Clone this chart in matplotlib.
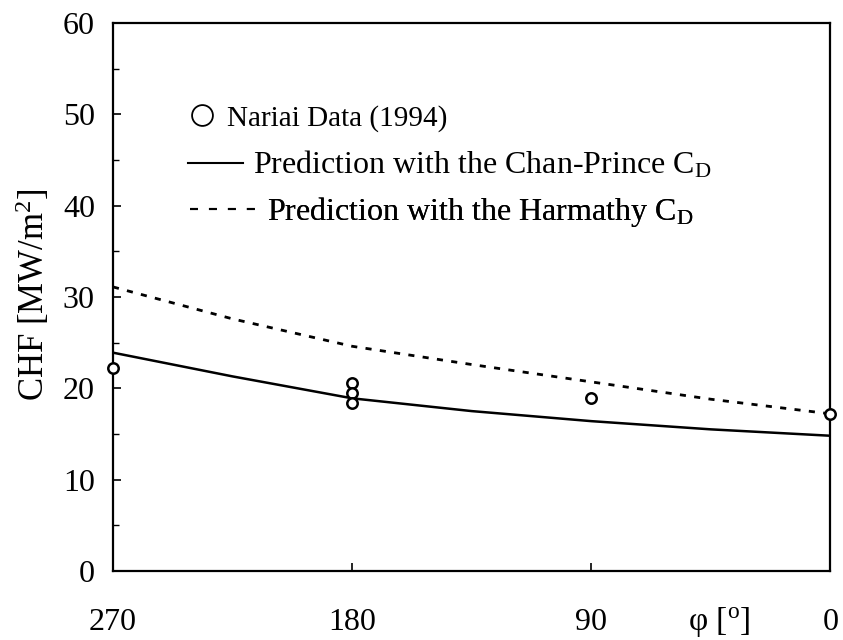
import matplotlib
matplotlib.use("Agg")
import matplotlib.pyplot as plt
from matplotlib.lines import Line2D
from matplotlib.ticker import MultipleLocator

plt.rcParams['font.family'] = ['Liberation Serif', 'DejaVu Serif']
plt.rcParams['mathtext.fontset'] = 'custom'
plt.rcParams['mathtext.rm'] = 'Liberation Serif'
plt.rcParams['mathtext.it'] = 'Liberation Serif:italic'

# Data
data_phi = [270, 180, 180, 180, 90, 0]
data_chf = [22.2, 20.6, 19.5, 18.4, 18.9, 17.2]

model_phi = [270, 225, 180, 135, 90, 45, 0]
chan_prince = [23.9, 21.3, 18.9, 17.5, 16.4, 15.5, 14.8]
harmathy = [31.1, 27.6, 24.6, 22.6, 20.7, 18.8, 17.2]

xticks = [270, 180, 90, 0]
yticks = [0, 10, 20, 30, 40, 50, 60]

fig = plt.figure(figsize=(8.43, 6.4), dpi=100)
ax = fig.add_axes([0.134, 0.108, 0.851, 0.856])

ax.plot(model_phi, chan_prince, color='black', lw=1.8, solid_capstyle='butt')
ax.plot(model_phi, harmathy, color='black', lw=2.0, linestyle=(0, (2.2, 3.0)))
ax.plot(data_phi, data_chf, linestyle='none', marker='o', markersize=7.5,
        markerfacecolor='white', markeredgecolor='black', markeredgewidth=1.8,
        clip_on=False, zorder=5)

ax.set_xlim(270, 0)
ax.set_ylim(0, 60)
ax.set_xticks(xticks)
ax.set_xticklabels([str(v) for v in xticks])
ax.set_yticks(yticks)
ax.yaxis.set_minor_locator(MultipleLocator(5))
ax.tick_params(axis='both', which='major', direction='in', length=6, width=1.2,
               labelsize=23)
ax.tick_params(axis='x', which='major', pad=27)
ax.tick_params(axis='y', which='major', pad=13)
ax.tick_params(axis='y', which='minor', direction='in', length=4, width=1.0)
for s in ax.spines.values():
    s.set_linewidth(1.6)

ax.set_ylabel('CHF [MW/m$^2$]', fontsize=25)
ax.yaxis.set_label_coords(-0.085, 0.504)
ax.text(0.845, -0.0935, r'$\mathrm{\varphi}$ [$^\mathrm{o}$]', transform=ax.transAxes,
        fontsize=24, ha='center', va='center')

# Legend rows (each placed individually, as in the original artwork)
rows = [
    (Line2D([], [], linestyle='none', marker='o', markersize=15,
            markerfacecolor='white', markeredgecolor='black', markeredgewidth=1.3),
     'Nariai Data (1994)', 21, 0.85, 0.45, (0.1067, 0.8266)),
    (Line2D([], [], color='black', lw=1.5),
     r'Prediction with the Chan-Prince C$_\mathrm{D}$', 23, 1.72, 0.31, (0.1046, 0.7409)),
    (Line2D([], [], color='black', lw=1.5, linestyle=(0, (3.8, 5.3))),
     r'Prediction with the Harmathy C$_\mathrm{D}$', 23, 2.1, 0.31, (0.1074, 0.6551)),
]
for h, lab, fs, hl, tp, anchor in rows:
    leg = ax.legend([h], [lab], loc='center left', bbox_to_anchor=anchor,
                    frameon=False, fontsize=fs, handlelength=hl, handletextpad=tp,
                    borderpad=0, borderaxespad=0)
    ax.add_artist(leg)

fig.savefig('out.png', dpi=100)
